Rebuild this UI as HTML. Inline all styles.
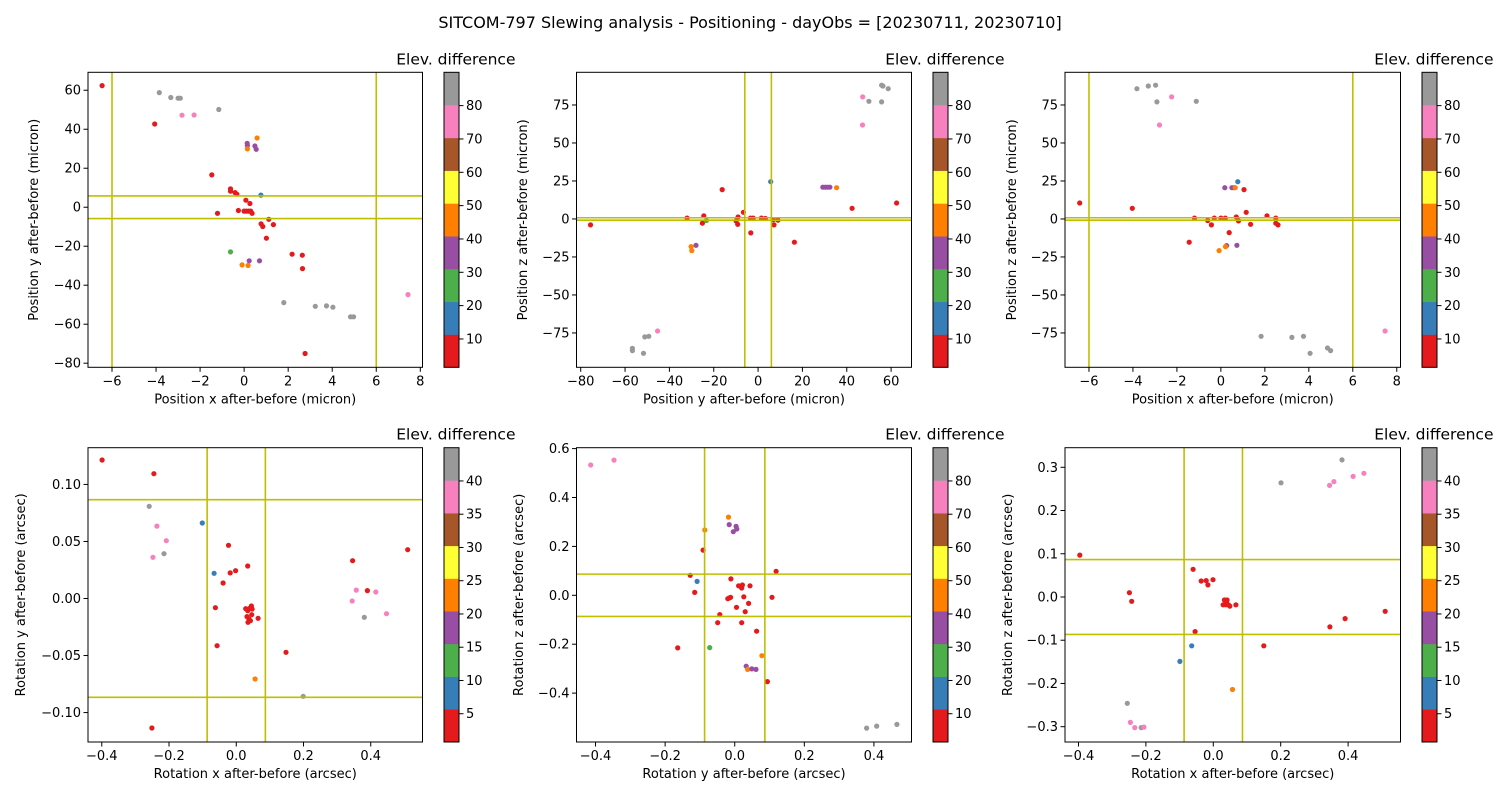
<!DOCTYPE html>
<html><head><meta charset="utf-8"><style>
html,body{margin:0;padding:0;background:#fff;}
svg{display:block;font-family:"DejaVu Sans","Liberation Sans",sans-serif;}
</style></head><body>
<svg id="fig" width="1500" height="800" viewBox="0 0 1500 800" xmlns="http://www.w3.org/2000/svg">
<rect width="1500" height="800" fill="#fff"/>
<text x="750" y="28" text-anchor="middle" font-size="16" fill="#000">SITCOM-797 Slewing analysis - Positioning - dayObs = [20230711, 20230710]</text>
</svg>
<script>
// ---- data ----
const p1X=[-6.45,-3.85,-3.33,-3.0,-2.9,-1.15,-2.82,-2.27,-4.06,0.59,0.14,0.15,0.49,0.55,0.15,-1.47,-0.62,-0.62,-0.41,-0.33,0.76,0.08,0.26,-0.26,0.0,0.1,0.2,0.3,0.36,-1.21,1.12,0.77,0.85,1.33,1.01,-0.62,2.18,2.64,2.65,0.23,0.70,-0.09,0.18,7.44,1.80,3.23,3.74,4.03,4.83,4.97,2.77];
const p1Y=[62.4,58.8,56.3,55.9,55.9,50.1,47.2,47.3,42.7,35.5,32.8,31.6,31.4,29.7,29.9,16.6,9.4,8.2,7.5,6.7,6.2,3.6,1.9,-1.7,-2,-2,-2,-2,-3.1,-3.1,-6.2,-8.5,-9.9,-8.9,-15.9,-22.9,-24.1,-24.6,-31.5,-27.5,-27.5,-29.6,-29.9,-44.8,-48.9,-50.8,-50.6,-51.3,-56.2,-56.2,-75.0];
const p1E=[6,85,85,85,85,85,75,75,6,46,36,36,36,36,46,6,6,6,6,6,16,6,6,6,6,6,6,6,6,6,6,6,6,6,6,26,6,6,6,36,36,46,46,75,85,85,85,85,85,85,6];

const p2X=[55.7,56.3,58.7,47.2,50,55.7,47.1,5.7,29.2,30.3,31.3,32.4,35.4,-16.2,42.4,62.5,-75.6,-32,-24.5,-25.1,-23.3,-6.6,-9,-9.9,-9.2,-3.4,-2.2,-3.3,1.5,3.3,6.8,9,7.2,16.4,-28,-30.2,-29.9,-45.3,-51.1,-49.3,-56.7,-56.7,-51.7];
const p2Y=[88,87.5,85.7,80.3,77.4,77,61.8,24.5,20.9,20.9,20.9,20.9,20.6,19.3,7.0,10.5,-3.9,0.6,2,-2.8,-1,4.4,1.3,-1.3,-3.5,0.6,0.6,-9.2,0.6,0.3,-0.5,-0.8,-3.9,-15.3,-17.3,-18.2,-20.8,-73.7,-77.6,-77.2,-85.1,-86.6,-88.4];
const p2E=[85,85,85,75,85,85,75,16,36,36,36,36,46,6,6,6,6,6,6,6,26,6,6,6,6,6,6,6,6,6,6,6,6,6,36,46,46,75,85,85,85,85,85];

const p3X=[-3.82,-3.30,-2.97,-2.91,-2.24,-1.12,-2.79,0.77,0.18,0.5,0.6,0.65,1.05,-6.42,-4.03,1.15,-1.2,-0.6,-0.3,0,0.2,0.7,0.8,2.1,2.5,2.5,2.6,-0.43,1.35,0.38,-1.44,0.26,0.73,0.21,-0.08,1.83,3.23,3.76,4.06,4.85,4.99,7.47];
const p3Y=[85.7,87.5,88,77,80.3,77.4,61.8,24.5,20.6,20.6,20.6,20.6,19.3,10.5,7,4.4,0.6,-1,0.6,0.6,0.6,1.3,-1.3,2,0.6,-2.8,-3.9,-3.9,-3.5,-9,-15.3,-17.5,-17.3,-18.2,-20.8,-77.2,-77.9,-77.2,-88.4,-84.9,-86.6,-73.7];
const p3E=[85,85,85,85,75,85,75,16,36,36,36,46,6,6,6,6,6,6,6,6,6,6,6,6,6,6,6,6,6,6,6,36,36,46,46,85,85,85,85,85,85,75];

const p4X=[-0.399,-0.245,-0.259,-0.236,-0.101,-0.208,-0.215,-0.248,-0.023,0.034,-0.066,-0.018,-0.002,-0.039,-0.062,0.028,0.034,0.040,0.045,0.047,0.046,0.032,0.038,0.042,0.035,0.065,-0.057,0.148,0.056,0.199,-0.251,0.510,0.346,0.357,0.390,0.415,0.345,0.381,0.447];
const p4Y=[0.1214,0.1094,0.0808,0.0635,0.0662,0.0507,0.0393,0.0361,0.0466,0.0285,0.0221,0.0224,0.0244,0.0136,-0.0081,-0.0089,-0.0107,-0.0086,-0.0066,-0.0092,-0.0142,-0.0159,-0.0180,-0.0195,-0.0209,-0.0174,-0.0414,-0.0472,-0.0706,-0.0857,-0.1135,0.0428,0.0331,0.0074,0.0069,0.0057,-0.0022,-0.0165,-0.0133];
const p4E=[3,3,43,38,8,38,43,38,3,3,8,3,3,3,3,3,3,3,3,3,3,3,3,3,3,3,3,3,23,43,3,3,3,38,3,38,38,43,38];

const p5X=[-0.414,-0.347,-0.018,-0.016,0.004,0.006,-0.004,-0.086,-0.091,0.119,-0.128,-0.108,-0.011,0.011,0.022,0.020,0.044,-0.115,-0.016,-0.02,-0.012,0.026,0.107,0.040,0.005,0.030,-0.043,-0.049,0.020,0.063,-0.164,-0.072,0.078,0.033,0.037,0.049,0.061,0.094,0.379,0.408,0.466];
const p5Y=[0.533,0.553,0.320,0.289,0.282,0.271,0.260,0.267,0.185,0.098,0.082,0.057,0.067,0.039,0.042,0.030,0.039,0.012,-0.011,-0.014,-0.008,-0.006,-0.008,-0.033,-0.049,-0.067,-0.079,-0.112,-0.112,-0.147,-0.215,-0.214,-0.247,-0.290,-0.303,-0.301,-0.303,-0.353,-0.543,-0.535,-0.528];
const p5E=[75,75,46,36,36,36,36,46,6,6,6,16,6,6,6,6,6,6,6,6,6,6,6,6,6,6,6,6,6,6,6,26,46,36,46,36,36,6,85,85,85];

const p6X=[0.382,0.447,0.415,0.201,0.358,0.345,-0.396,-0.060,-0.036,-0.021,-0.001,-0.016,-0.249,-0.242,0.033,0.041,0.029,0.037,0.045,0.049,0.039,0.067,0.510,0.391,0.346,-0.054,-0.064,0.150,-0.099,0.057,-0.255,-0.246,-0.233,-0.214,-0.206];
const p6Y=[0.317,0.286,0.279,0.264,0.267,0.258,0.097,0.064,0.037,0.038,0.040,0.028,0.010,-0.010,-0.007,-0.007,-0.018,-0.018,-0.018,-0.021,-0.013,-0.018,-0.033,-0.050,-0.069,-0.080,-0.113,-0.113,-0.149,-0.214,-0.246,-0.290,-0.302,-0.302,-0.301];
const p6E=[43,38,38,43,38,38,3,3,3,3,3,3,3,3,3,3,3,3,3,3,3,3,3,3,3,3,8,3,8,23,43,38,38,43,38];

const xt1=[-6,-4,-2,0,2,4,6,8], yt1=[-80,-60,-40,-20,0,20,40,60];
const xt2=[-80,-60,-40,-20,0,20,40,60], yt2=[-75,-50,-25,0,25,50,75];
const xtR=[-0.4,-0.2,0,0.2,0.4];
const yt4=[-0.10,-0.05,0,0.05,0.10], yt5=[-0.4,-0.2,0,0.2,0.4,0.6], yt6=[-0.3,-0.2,-0.1,0,0.1,0.2,0.3];
const cbTopTicks=[10,20,30,40,50,60,70,80], cbBotTicks=[5,10,15,20,25,30,35,40];
const SET1=["#e41a1c","#377eb8","#4daf4a","#984ea3","#ff7f00","#ffff33","#a65628","#f781bf","#999999"];

// ---- drawing ----
const NS="http://www.w3.org/2000/svg";
const svg=document.getElementById('fig');
function el(tag,attrs,parent){const e=document.createElementNS(NS,tag);for(const k in attrs)e.setAttribute(k,attrs[k]);(parent||svg).appendChild(e);return e;}
function fmt(v,d){const s=v.toFixed(d);return (v<-1e-9?"\u2212"+s.slice(1):(s.startsWith("-")?s.slice(1):s));}

function plot(cfg){
  const g=el('g',{});
  
  
  const L=cfg.box[0],T=cfg.box[1],R=cfg.box[2],B=cfg.box[3];
  const sx=v=>L+(v-cfg.xd[0])/(cfg.xd[1]-cfg.xd[0])*(R-L);
  const sy=v=>B-(v-cfg.yd[0])/(cfg.yd[1]-cfg.yd[0])*(B-T);
  // points
  for(let i=0;i<cfg.X.length;i++){
    const b=Math.max(0,Math.min(8,Math.floor((cfg.E[i]-cfg.vmin)/(cfg.vmax-cfg.vmin)*9)));
    const c=el('circle',{cx:sx(cfg.X[i]).toFixed(1),cy:sy(cfg.Y[i]).toFixed(1),r:2.6,fill:SET1[b]},g);
    
    
  }
  // limit lines
  cfg.vl.forEach(v=>{const l=el('line',{x1:sx(v),x2:sx(v),y1:T,y2:B,stroke:"#bfbf00","stroke-width":1.6},g);
    });
  cfg.hl.forEach(v=>{const l=el('line',{x1:L,x2:R,y1:sy(v),y2:sy(v),stroke:"#bfbf00","stroke-width":1.6},g);
    });
  const fr=el('rect',{x:L,y:T,width:R-L,height:B-T,fill:"none",stroke:"#000","stroke-width":1},g);
  
  cfg.xt.forEach(v=>{const x=sx(v);el('line',{x1:x,x2:x,y1:B,y2:B+4.5,stroke:"#000"},g);
    const t=el('text',{x:x,y:B+18,"text-anchor":"middle","font-size":13},g);t.textContent=fmt(v,cfg.xdp);
    });
  cfg.yt.forEach(v=>{const y=sy(v);el('line',{x1:L-4.5,x2:L,y1:y,y2:y,stroke:"#000"},g);
    const t=el('text',{x:L-7,y:y+4.5,"text-anchor":"end","font-size":13},g);t.textContent=fmt(v,cfg.ydp);
    });
  const xl=el('text',{x:(L+R)/2,y:B+36,"text-anchor":"middle","font-size":13},g);xl.textContent=cfg.xlab;
  
  const yx=cfg.ylx, yc=(T+B)/2;
  const yl=el('text',{x:yx,y:yc,"text-anchor":"middle","font-size":13,transform:`rotate(-90 ${yx} ${yc})`},g);yl.textContent=cfg.ylab;
  
  // colorbar
  const cx=R+21.5,cw=15;
  for(let k=0;k<9;k++){
    const y1=B-(k+1)*(B-T)/9;
    const r=el('rect',{x:cx,y:y1,width:cw,height:(B-T)/9+0.3,fill:SET1[k]},g);
    
  }
  const cb=el('rect',{x:cx,y:T,width:cw,height:B-T,fill:"none",stroke:"#000","stroke-width":1},g);
  
  cfg.ct.forEach(v=>{const y=B-(v-cfg.vmin)/(cfg.vmax-cfg.vmin)*(B-T);
    el('line',{x1:cx+cw,x2:cx+cw+4.5,y1:y,y2:y,stroke:"#000"},g);
    const t=el('text',{x:cx+cw+7,y:y+4.5,"font-size":13},g);t.textContent=String(v);
    });
  const ti=el('text',{x:R+93,y:T-8,"text-anchor":"end","font-size":15.5},g);ti.textContent="Elev. difference";
  
}
const TOP=[72.3,367.3], BOT=[447.7,742];
plot({name:'plot-pos-x-vs-y',box:[88,TOP[0],422.5,TOP[1]],xd:[-7.09,8.1],yd:[-82.1,69.2],X:p1X,Y:p1Y,E:p1E,vmin:1.5,vmax:90,
  vl:[-6,6],hl:[-5.8,5.8],xt:xt1,yt:yt1,xdp:0,ydp:0,ct:cbTopTicks,xlab:"Position x after-before (micron)",ylab:"Position y after-before (micron)",ylx:38});
plot({name:'plot-pos-y-vs-z',box:[576.5,TOP[0],911.5,TOP[1]],xd:[-81.9,69.2],yd:[-97.6,96.5],X:p2X,Y:p2Y,E:p2E,vmin:1.5,vmax:90,
  vl:[-6,6],hl:[-0.8,0.8],xt:xt2,yt:yt2,xdp:0,ydp:0,ct:cbTopTicks,xlab:"Position y after-before (micron)",ylab:"Position z after-before (micron)",ylx:527});
plot({name:'plot-pos-x-vs-z',box:[1065,TOP[0],1400.5,TOP[1]],xd:[-7.09,8.17],yd:[-97.6,96.5],X:p3X,Y:p3Y,E:p3E,vmin:1.5,vmax:90,
  vl:[-6,6],hl:[-0.8,0.8],xt:xt1,yt:yt2,xdp:0,ydp:0,ct:cbTopTicks,xlab:"Position x after-before (micron)",ylab:"Position z after-before (micron)",ylx:1016});
plot({name:'plot-rot-x-vs-y',box:[88,BOT[0],422.5,BOT[1]],xd:[-0.441,0.554],yd:[-0.1258,0.1322],X:p4X,Y:p4Y,E:p4E,vmin:0.75,vmax:45,
  vl:[-0.0866,0.0866],hl:[-0.0866,0.0866],xt:xtR,yt:yt4,xdp:1,ydp:2,ct:cbBotTicks,xlab:"Rotation x after-before (arcsec)",ylab:"Rotation y after-before (arcsec)",ylx:25});
plot({name:'plot-rot-y-vs-z',box:[576.5,BOT[0],911.5,BOT[1]],xd:[-0.4547,0.508],yd:[-0.600,0.6037],X:p5X,Y:p5Y,E:p5E,vmin:1.5,vmax:90,
  vl:[-0.0866,0.0866],hl:[-0.0866,0.0866],xt:xtR,yt:yt5,xdp:1,ydp:1,ct:cbTopTicks,xlab:"Rotation y after-before (arcsec)",ylab:"Rotation z after-before (arcsec)",ylx:523});
plot({name:'plot-rot-x-vs-z',box:[1065,BOT[0],1400.5,BOT[1]],xd:[-0.440,0.5555],yd:[-0.3354,0.3453],X:p6X,Y:p6Y,E:p6E,vmin:0.75,vmax:45,
  vl:[-0.0866,0.0866],hl:[-0.0866,0.0866],xt:xtR,yt:yt6,xdp:1,ydp:1,ct:cbBotTicks,xlab:"Rotation x after-before (arcsec)",ylab:"Rotation z after-before (arcsec)",ylx:1012});
</script>
</body></html>
